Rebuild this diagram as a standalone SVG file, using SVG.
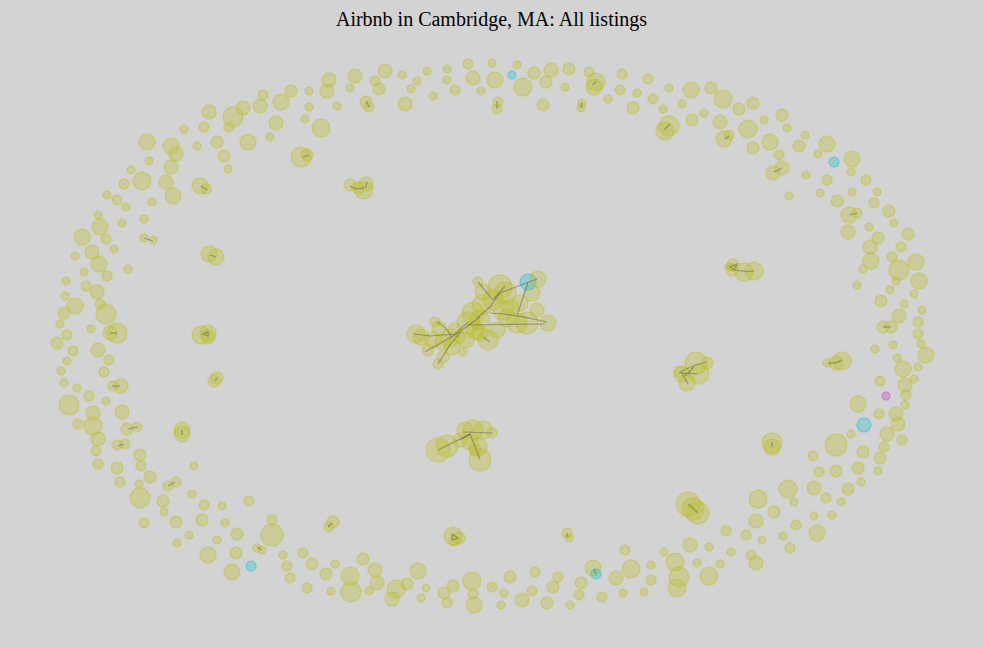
<svg xmlns="http://www.w3.org/2000/svg" width="983" height="647" viewBox="0 0 983 647">
<style>
.bg{fill:#d3d3d3}
.t{font-family:"Liberation Serif","Times New Roman",serif;font-size:20px;fill:#000}
.y circle{fill:#bcbd22;fill-opacity:.32;stroke:#bcbd22;stroke-opacity:.35;stroke-width:1.5}
.y .c{fill:#17becf;stroke:#17becf}
.y .m{fill:#cc33cc;stroke:#cc33cc}
.e path{fill:none;stroke:#555;stroke-opacity:.45;stroke-width:1.2}
</style>
<rect class="bg" x="0" y="0" width="983" height="647"/>
<text class="t" x="491.5" y="26" text-anchor="middle">Airbnb in Cambridge, MA: All listings</text>
<g class="y" id="nodes">
<g id="n1"><circle cx="355" cy="76" r="7"/></g>
<g id="n2"><circle cx="350" cy="88" r="4"/></g>
<g id="n3"><circle cx="329" cy="80" r="7"/></g>
<g id="n4"><circle cx="327" cy="91" r="7"/></g>
<g id="n5"><circle cx="337" cy="106" r="4"/></g>
<g id="n6"><circle cx="309" cy="91" r="4"/></g>
<g id="n7"><circle cx="309" cy="107" r="4"/></g>
<g id="n8"><circle cx="305" cy="119" r="4"/></g>
<g id="n9"><circle cx="321" cy="128" r="9"/></g>
<g id="n10"><circle cx="291" cy="91" r="6"/></g>
<g id="n11"><circle cx="281" cy="102" r="8"/></g>
<g id="n12"><circle cx="263" cy="95" r="5"/></g>
<g id="n13"><circle cx="260" cy="106" r="7"/></g>
<g id="n14"><circle cx="276" cy="123" r="7"/></g>
<g id="n15"><circle cx="270" cy="137" r="4"/></g>
<g id="n16"><circle cx="243" cy="108" r="7"/></g>
<g id="n17"><circle cx="233" cy="117" r="10"/></g>
<g id="n18"><circle cx="229" cy="127" r="5"/></g>
<g id="n19"><circle cx="209" cy="112" r="7"/></g>
<g id="n20"><circle cx="204" cy="127" r="5"/></g>
<g id="n21"><circle cx="184" cy="129" r="4"/></g>
<g id="n22"><circle cx="217" cy="142" r="6"/></g>
<g id="n23"><circle cx="197" cy="146" r="4"/></g>
<g id="n24"><circle cx="248" cy="142" r="8"/></g>
<g id="n25"><circle cx="224" cy="156" r="6"/></g>
<g id="n26"><circle cx="228" cy="169" r="4"/></g>
<g id="n27"><circle cx="301" cy="157" r="10"/></g>
<g id="n28"><circle cx="307" cy="155" r="6"/></g>
<g id="n29"><circle cx="147" cy="142" r="8"/></g>
<g id="n30"><circle cx="171" cy="146" r="8"/></g>
<g id="n31"><circle cx="176" cy="154" r="7"/></g>
<g id="n32"><circle cx="149" cy="161" r="4"/></g>
<g id="n33"><circle cx="171" cy="167" r="7"/></g>
<g id="n34"><circle cx="131" cy="170" r="4"/></g>
<g id="n35"><circle cx="142" cy="181" r="9"/></g>
<g id="n36"><circle cx="166" cy="182" r="7"/></g>
<g id="n37"><circle cx="173" cy="196" r="8"/></g>
<g id="n38"><circle cx="200" cy="186" r="8"/></g>
<g id="n39"><circle cx="206" cy="189" r="5"/></g>
<g id="n40"><circle cx="124" cy="184" r="5"/></g>
<g id="n41"><circle cx="107" cy="195" r="4"/></g>
<g id="n42"><circle cx="117" cy="200" r="5"/></g>
<g id="n43"><circle cx="126" cy="207" r="4"/></g>
<g id="n44"><circle cx="152" cy="202" r="4"/></g>
<g id="n45"><circle cx="98" cy="215" r="4"/></g>
<g id="n46"><circle cx="100" cy="227" r="8"/></g>
<g id="n47"><circle cx="82" cy="237" r="8"/></g>
<g id="n48"><circle cx="106" cy="239" r="5"/></g>
<g id="n49"><circle cx="122" cy="223" r="4"/></g>
<g id="n50"><circle cx="144" cy="219" r="4"/></g>
<g id="n51"><circle cx="144" cy="238" r="4"/></g>
<g id="n52"><circle cx="153" cy="240" r="4"/></g>
<g id="n53"><circle cx="114" cy="249" r="4"/></g>
<g id="n54"><circle cx="92" cy="252" r="7"/></g>
<g id="n55"><circle cx="75" cy="256" r="4"/></g>
<g id="n56"><circle cx="99" cy="264" r="8"/></g>
<g id="n57"><circle cx="128" cy="269" r="4"/></g>
<g id="n58"><circle cx="84" cy="272" r="4"/></g>
<g id="n59"><circle cx="107" cy="276" r="5"/></g>
<g id="n60"><circle cx="66" cy="281" r="4"/></g>
<g id="n61"><circle cx="86" cy="286" r="5"/></g>
<g id="n62"><circle cx="97" cy="292" r="7"/></g>
<g id="n63"><circle cx="65" cy="296" r="4"/></g>
<g id="n64"><circle cx="209" cy="254" r="8"/></g>
<g id="n65"><circle cx="216" cy="257" r="8"/></g>
<g id="n66"><circle cx="350" cy="185" r="6"/></g>
<g id="n67"><circle cx="358" cy="188" r="6"/></g>
<g id="n68"><circle cx="366" cy="184" r="7"/></g>
<g id="n69"><circle cx="364" cy="190" r="9"/></g>
<g id="n70"><circle cx="385" cy="71" r="7"/></g>
<g id="n71"><circle cx="375" cy="81" r="5"/></g>
<g id="n72"><circle cx="379" cy="89" r="6"/></g>
<g id="n73"><circle cx="366" cy="102" r="6"/></g>
<g id="n74"><circle cx="369" cy="107" r="5"/></g>
<g id="n75"><circle cx="402" cy="75" r="4"/></g>
<g id="n76"><circle cx="417" cy="81" r="4"/></g>
<g id="n77"><circle cx="411" cy="89" r="4"/></g>
<g id="n78"><circle cx="405" cy="104" r="7"/></g>
<g id="n79"><circle cx="427" cy="71" r="4"/></g>
<g id="n80"><circle cx="447" cy="69" r="4"/></g>
<g id="n81"><circle cx="447" cy="80" r="4"/></g>
<g id="n82"><circle cx="433" cy="96" r="4"/></g>
<g id="n83"><circle cx="455" cy="90" r="5"/></g>
<g id="n84"><circle cx="468" cy="64" r="5"/></g>
<g id="n85"><circle cx="473" cy="78" r="7"/></g>
<g id="n86"><circle cx="481" cy="91" r="4"/></g>
<g id="n87"><circle cx="492" cy="63" r="4"/></g>
<g id="n88"><circle cx="495" cy="80" r="8"/></g>
<g id="n89"><circle cx="498" cy="102" r="5"/></g>
<g id="n90"><circle cx="497" cy="109" r="5"/></g>
<g id="n91"><circle class="c" cx="512" cy="75" r="4"/></g>
<g id="n92"><circle cx="517" cy="65" r="4"/></g>
<g id="n93"><circle cx="523" cy="87" r="9"/></g>
<g id="n94"><circle cx="534" cy="73" r="6"/></g>
<g id="n95"><circle cx="551" cy="70" r="7"/></g>
<g id="n96"><circle cx="546" cy="82" r="6"/></g>
<g id="n97"><circle cx="543" cy="105" r="6"/></g>
<g id="n98"><circle cx="565" cy="87" r="4"/></g>
<g id="n99"><circle cx="569" cy="69" r="6"/></g>
<g id="n100"><circle cx="582" cy="103" r="4"/></g>
<g id="n101"><circle cx="581" cy="108" r="4"/></g>
<g id="n102"><circle cx="589" cy="72" r="5"/></g>
<g id="n103"><circle cx="596" cy="82" r="9"/></g>
<g id="n104"><circle cx="594" cy="87" r="8"/></g>
<g id="n105"><circle cx="622" cy="74" r="5"/></g>
<g id="n106"><circle cx="620" cy="90" r="5"/></g>
<g id="n107"><circle cx="608" cy="99" r="4"/></g>
<g id="n108"><circle cx="637" cy="93" r="4"/></g>
<g id="n109"><circle cx="633" cy="108" r="6"/></g>
<g id="n110"><circle cx="648" cy="79" r="5"/></g>
<g id="n111"><circle cx="653" cy="99" r="5"/></g>
<g id="n112"><circle cx="669" cy="88" r="4"/></g>
<g id="n113"><circle cx="663" cy="109" r="4"/></g>
<g id="n114"><circle cx="682" cy="104" r="4"/></g>
<g id="n115"><circle cx="691" cy="90" r="8"/></g>
<g id="n116"><circle cx="711" cy="88" r="6"/></g>
<g id="n117"><circle cx="723" cy="99" r="9"/></g>
<g id="n118"><circle cx="692" cy="120" r="6"/></g>
<g id="n119"><circle cx="704" cy="113" r="4"/></g>
<g id="n120"><circle cx="739" cy="109" r="6"/></g>
<g id="n121"><circle cx="753" cy="103" r="6"/></g>
<g id="n122"><circle cx="720" cy="122" r="7"/></g>
<g id="n123"><circle cx="669" cy="126" r="10"/></g>
<g id="n124"><circle cx="665" cy="131" r="9"/></g>
<g id="n125"><circle cx="724" cy="139" r="8"/></g>
<g id="n126"><circle cx="729" cy="135" r="5"/></g>
<g id="n127"><circle cx="748" cy="129" r="9"/></g>
<g id="n128"><circle cx="764" cy="120" r="4"/></g>
<g id="n129"><circle cx="782" cy="115" r="6"/></g>
<g id="n130"><circle cx="787" cy="128" r="4"/></g>
<g id="n131"><circle cx="753" cy="148" r="6"/></g>
<g id="n132"><circle cx="770" cy="142" r="8"/></g>
<g id="n133"><circle cx="805" cy="135" r="4"/></g>
<g id="n134"><circle cx="799" cy="146" r="6"/></g>
<g id="n135"><circle cx="827" cy="144" r="8"/></g>
<g id="n136"><circle cx="779" cy="155" r="5"/></g>
<g id="n137"><circle cx="782" cy="168" r="7"/></g>
<g id="n138"><circle cx="773" cy="173" r="7"/></g>
<g id="n139"><circle cx="818" cy="154" r="4"/></g>
<g id="n140"><circle class="c" cx="834" cy="162" r="5"/></g>
<g id="n141"><circle cx="852" cy="159" r="8"/></g>
<g id="n142"><circle cx="851" cy="172" r="4"/></g>
<g id="n143"><circle cx="806" cy="175" r="4"/></g>
<g id="n144"><circle cx="827" cy="180" r="5"/></g>
<g id="n145"><circle cx="866" cy="180" r="5"/></g>
<g id="n146"><circle cx="789" cy="196" r="4"/></g>
<g id="n147"><circle cx="820" cy="193" r="4"/></g>
<g id="n148"><circle cx="837" cy="201" r="6"/></g>
<g id="n149"><circle cx="852" cy="192" r="4"/></g>
<g id="n150"><circle cx="877" cy="192" r="4"/></g>
<g id="n151"><circle cx="874" cy="203" r="5"/></g>
<g id="n152"><circle cx="889" cy="211" r="6"/></g>
<g id="n153"><circle cx="849" cy="215" r="8"/></g>
<g id="n154"><circle cx="857" cy="213" r="5"/></g>
<g id="n155"><circle cx="869" cy="227" r="4"/></g>
<g id="n156"><circle cx="894" cy="223" r="4"/></g>
<g id="n157"><circle cx="908" cy="234" r="6"/></g>
<g id="n158"><circle cx="848" cy="232" r="7"/></g>
<g id="n159"><circle cx="878" cy="238" r="6"/></g>
<g id="n160"><circle cx="870" cy="247" r="7"/></g>
<g id="n161"><circle cx="901" cy="247" r="5"/></g>
<g id="n162"><circle cx="871" cy="261" r="8"/></g>
<g id="n163"><circle cx="892" cy="257" r="5"/></g>
<g id="n164"><circle cx="916" cy="262" r="8"/></g>
<g id="n165"><circle cx="899" cy="270" r="10"/></g>
<g id="n166"><circle cx="863" cy="269" r="4"/></g>
<g id="n167"><circle cx="919" cy="281" r="8"/></g>
<g id="n168"><circle cx="896" cy="281" r="4"/></g>
<g id="n169"><circle cx="857" cy="285" r="4"/></g>
<g id="n170"><circle cx="890" cy="290" r="4"/></g>
<g id="n171"><circle cx="914" cy="294" r="4"/></g>
<g id="n172"><circle cx="881" cy="301" r="6"/></g>
<g id="n173"><circle cx="733" cy="265" r="6"/></g>
<g id="n174"><circle cx="732" cy="270" r="6"/></g>
<g id="n175"><circle cx="744" cy="272" r="9"/></g>
<g id="n176"><circle cx="754" cy="271" r="9"/></g>
<g id="n177"><circle cx="729" cy="267" r="4"/></g>
<g id="n178"><circle cx="75" cy="306" r="8"/></g>
<g id="n179"><circle cx="64" cy="313" r="6"/></g>
<g id="n180"><circle cx="100" cy="304" r="5"/></g>
<g id="n181"><circle cx="106" cy="314" r="10"/></g>
<g id="n182"><circle cx="60" cy="324" r="4"/></g>
<g id="n183"><circle cx="91" cy="329" r="4"/></g>
<g id="n184"><circle cx="67" cy="335" r="5"/></g>
<g id="n185"><circle cx="110" cy="333" r="7"/></g>
<g id="n186"><circle cx="117" cy="333" r="10"/></g>
<g id="n187"><circle cx="57" cy="343" r="6"/></g>
<g id="n188"><circle cx="73" cy="351" r="5"/></g>
<g id="n189"><circle cx="98" cy="350" r="7"/></g>
<g id="n190"><circle cx="109" cy="360" r="5"/></g>
<g id="n191"><circle cx="67" cy="361" r="4"/></g>
<g id="n192"><circle cx="61" cy="371" r="4"/></g>
<g id="n193"><circle cx="104" cy="372" r="5"/></g>
<g id="n194"><circle cx="64" cy="383" r="4"/></g>
<g id="n195"><circle cx="77" cy="388" r="4"/></g>
<g id="n196"><circle cx="113" cy="386" r="5"/></g>
<g id="n197"><circle cx="121" cy="386" r="7"/></g>
<g id="n198"><circle cx="89" cy="396" r="5"/></g>
<g id="n199"><circle cx="106" cy="401" r="4"/></g>
<g id="n200"><circle cx="69" cy="405" r="10"/></g>
<g id="n201"><circle cx="93" cy="413" r="7"/></g>
<g id="n202"><circle cx="122" cy="412" r="7"/></g>
<g id="n203"><circle cx="78" cy="424" r="5"/></g>
<g id="n204"><circle cx="93" cy="426" r="9"/></g>
<g id="n205"><circle cx="127" cy="429" r="6"/></g>
<g id="n206"><circle cx="137" cy="427" r="5"/></g>
<g id="n207"><circle cx="98" cy="439" r="7"/></g>
<g id="n208"><circle cx="117" cy="445" r="5"/></g>
<g id="n209"><circle cx="125" cy="444" r="5"/></g>
<g id="n210"><circle cx="96" cy="451" r="5"/></g>
<g id="n211"><circle cx="140" cy="455" r="6"/></g>
<g id="n212"><circle cx="98" cy="464" r="5"/></g>
<g id="n213"><circle cx="117" cy="468" r="6"/></g>
<g id="n214"><circle cx="141" cy="466" r="5"/></g>
<g id="n215"><circle cx="194" cy="466" r="4"/></g>
<g id="n216"><circle cx="120" cy="482" r="5"/></g>
<g id="n217"><circle cx="150" cy="477" r="6"/></g>
<g id="n218"><circle cx="139" cy="484" r="4"/></g>
<g id="n219"><circle cx="168" cy="486" r="5"/></g>
<g id="n220"><circle cx="176" cy="482" r="5"/></g>
<g id="n221"><circle cx="140" cy="498" r="10"/></g>
<g id="n222"><circle cx="192" cy="494" r="4"/></g>
<g id="n223"><circle cx="163" cy="501" r="6"/></g>
<g id="n224"><circle cx="164" cy="512" r="4"/></g>
<g id="n225"><circle cx="204" cy="505" r="5"/></g>
<g id="n226"><circle cx="222" cy="506" r="4"/></g>
<g id="n227"><circle cx="249" cy="501" r="5"/></g>
<g id="n228"><circle cx="144" cy="523" r="5"/></g>
<g id="n229"><circle cx="176" cy="522" r="6"/></g>
<g id="n230"><circle cx="202" cy="520" r="6"/></g>
<g id="n231"><circle cx="189" cy="535" r="4"/></g>
<g id="n232"><circle cx="177" cy="543" r="4"/></g>
<g id="n233"><circle cx="225" cy="523" r="4"/></g>
<g id="n234"><circle cx="217" cy="540" r="4"/></g>
<g id="n235"><circle cx="237" cy="534" r="6"/></g>
<g id="n236"><circle cx="272" cy="520" r="5"/></g>
<g id="n237"><circle cx="272" cy="535" r="11"/></g>
<g id="n238"><circle cx="208" cy="555" r="8"/></g>
<g id="n239"><circle cx="236" cy="553" r="6"/></g>
<g id="n240"><circle cx="257" cy="548" r="4"/></g>
<g id="n241"><circle cx="262" cy="550" r="4"/></g>
<g id="n242"><circle class="c" cx="251" cy="566" r="5"/></g>
<g id="n243"><circle cx="232" cy="572" r="8"/></g>
<g id="n244"><circle cx="283" cy="555" r="4"/></g>
<g id="n245"><circle cx="287" cy="566" r="5"/></g>
<g id="n246"><circle cx="303" cy="553" r="5"/></g>
<g id="n247"><circle cx="290" cy="578" r="5"/></g>
<g id="n248"><circle cx="312" cy="564" r="6"/></g>
<g id="n249"><circle cx="335" cy="564" r="4"/></g>
<g id="n250"><circle cx="307" cy="588" r="5"/></g>
<g id="n251"><circle cx="326" cy="574" r="6"/></g>
<g id="n252"><circle cx="331" cy="591" r="4"/></g>
<g id="n253"><circle cx="350" cy="576" r="9"/></g>
<g id="n254"><circle cx="351" cy="592" r="10"/></g>
<g id="n255"><circle cx="363" cy="559" r="6"/></g>
<g id="n256"><circle cx="333" cy="522" r="6"/></g>
<g id="n257"><circle cx="329" cy="527" r="5"/></g>
<g id="n258"><circle cx="201" cy="335" r="9"/></g>
<g id="n259"><circle cx="208" cy="333" r="8"/></g>
<g id="n260"><circle cx="208" cy="337" r="7"/></g>
<g id="n261"><circle cx="217" cy="378" r="6"/></g>
<g id="n262"><circle cx="214" cy="381" r="6"/></g>
<g id="n263"><circle cx="182" cy="430" r="8"/></g>
<g id="n264"><circle cx="182" cy="434" r="8"/></g>
<g id="n265"><circle cx="453" cy="536" r="9"/></g>
<g id="n266"><circle cx="459" cy="538" r="6"/></g>
<g id="n267"><circle cx="454" cy="541" r="5"/></g>
<g id="n268"><circle cx="567" cy="533" r="5"/></g>
<g id="n269"><circle cx="569" cy="538" r="4"/></g>
<g id="n270"><circle cx="375" cy="570" r="7"/></g>
<g id="n271"><circle cx="377" cy="583" r="7"/></g>
<g id="n272"><circle cx="369" cy="591" r="4"/></g>
<g id="n273"><circle cx="396" cy="589" r="9"/></g>
<g id="n274"><circle cx="392" cy="599" r="7"/></g>
<g id="n275"><circle cx="407" cy="584" r="6"/></g>
<g id="n276"><circle cx="418" cy="571" r="8"/></g>
<g id="n277"><circle cx="426" cy="588" r="4"/></g>
<g id="n278"><circle cx="421" cy="598" r="4"/></g>
<g id="n279"><circle cx="444" cy="593" r="6"/></g>
<g id="n280"><circle cx="447" cy="603" r="5"/></g>
<g id="n281"><circle cx="453" cy="586" r="6"/></g>
<g id="n282"><circle cx="472" cy="581" r="9"/></g>
<g id="n283"><circle cx="473" cy="594" r="5"/></g>
<g id="n284"><circle cx="474" cy="605" r="8"/></g>
<g id="n285"><circle cx="492" cy="587" r="5"/></g>
<g id="n286"><circle cx="504" cy="593" r="4"/></g>
<g id="n287"><circle cx="501" cy="605" r="4"/></g>
<g id="n288"><circle cx="510" cy="577" r="6"/></g>
<g id="n289"><circle cx="522" cy="600" r="7"/></g>
<g id="n290"><circle cx="532" cy="591" r="5"/></g>
<g id="n291"><circle cx="535" cy="572" r="5"/></g>
<g id="n292"><circle cx="547" cy="603" r="6"/></g>
<g id="n293"><circle cx="553" cy="587" r="6"/></g>
<g id="n294"><circle cx="558" cy="577" r="5"/></g>
<g id="n295"><circle cx="570" cy="605" r="4"/></g>
<g id="n296"><circle cx="579" cy="595" r="5"/></g>
<g id="n297"><circle cx="581" cy="583" r="6"/></g>
<g id="n298"><circle cx="593" cy="568" r="8"/></g>
<g id="n299"><circle class="c" cx="596" cy="574" r="5"/></g>
<g id="n300"><circle cx="602" cy="597" r="5"/></g>
<g id="n301"><circle cx="616" cy="578" r="7"/></g>
<g id="n302"><circle cx="623" cy="593" r="4"/></g>
<g id="n303"><circle cx="625" cy="550" r="5"/></g>
<g id="n304"><circle cx="631" cy="569" r="9"/></g>
<g id="n305"><circle cx="644" cy="592" r="4"/></g>
<g id="n306"><circle cx="651" cy="565" r="4"/></g>
<g id="n307"><circle cx="651" cy="580" r="5"/></g>
<g id="n308"><circle cx="904" cy="304" r="4"/></g>
<g id="n309"><circle cx="922" cy="310" r="4"/></g>
<g id="n310"><circle cx="899" cy="316" r="7"/></g>
<g id="n311"><circle cx="918" cy="322" r="5"/></g>
<g id="n312"><circle cx="883" cy="327" r="6"/></g>
<g id="n313"><circle cx="891" cy="327" r="6"/></g>
<g id="n314"><circle cx="918" cy="334" r="5"/></g>
<g id="n315"><circle cx="893" cy="345" r="4"/></g>
<g id="n316"><circle cx="921" cy="344" r="4"/></g>
<g id="n317"><circle cx="875" cy="349" r="4"/></g>
<g id="n318"><circle cx="926" cy="355" r="8"/></g>
<g id="n319"><circle cx="897" cy="358" r="4"/></g>
<g id="n320"><circle cx="903" cy="369" r="8"/></g>
<g id="n321"><circle cx="918" cy="367" r="4"/></g>
<g id="n322"><circle cx="880" cy="381" r="5"/></g>
<g id="n323"><circle cx="914" cy="379" r="4"/></g>
<g id="n324"><circle cx="905" cy="385" r="7"/></g>
<g id="n325"><circle cx="906" cy="395" r="5"/></g>
<g id="n326"><circle class="m" cx="886" cy="396" r="4"/></g>
<g id="n327"><circle cx="858" cy="404" r="8"/></g>
<g id="n328"><circle cx="905" cy="405" r="4"/></g>
<g id="n329"><circle cx="879" cy="414" r="5"/></g>
<g id="n330"><circle cx="896" cy="414" r="7"/></g>
<g id="n331"><circle cx="898" cy="424" r="7"/></g>
<g id="n332"><circle class="c" cx="864" cy="425" r="7"/></g>
<g id="n333"><circle cx="851" cy="434" r="4"/></g>
<g id="n334"><circle cx="887" cy="434" r="7"/></g>
<g id="n335"><circle cx="902" cy="440" r="5"/></g>
<g id="n336"><circle cx="836" cy="445" r="11"/></g>
<g id="n337"><circle cx="884" cy="447" r="5"/></g>
<g id="n338"><circle cx="863" cy="452" r="6"/></g>
<g id="n339"><circle cx="813" cy="456" r="5"/></g>
<g id="n340"><circle cx="880" cy="458" r="6"/></g>
<g id="n341"><circle cx="858" cy="468" r="6"/></g>
<g id="n342"><circle cx="819" cy="472" r="5"/></g>
<g id="n343"><circle cx="836" cy="471" r="6"/></g>
<g id="n344"><circle cx="878" cy="471" r="4"/></g>
<g id="n345"><circle cx="861" cy="482" r="4"/></g>
<g id="n346"><circle cx="788" cy="489" r="9"/></g>
<g id="n347"><circle cx="814" cy="488" r="7"/></g>
<g id="n348"><circle cx="848" cy="489" r="6"/></g>
<g id="n349"><circle cx="826" cy="498" r="5"/></g>
<g id="n350"><circle cx="794" cy="502" r="4"/></g>
<g id="n351"><circle cx="841" cy="502" r="4"/></g>
<g id="n352"><circle cx="758" cy="499" r="9"/></g>
<g id="n353"><circle cx="774" cy="512" r="6"/></g>
<g id="n354"><circle cx="814" cy="516" r="4"/></g>
<g id="n355"><circle cx="832" cy="515" r="4"/></g>
<g id="n356"><circle cx="756" cy="521" r="7"/></g>
<g id="n357"><circle cx="796" cy="525" r="5"/></g>
<g id="n358"><circle cx="817" cy="533" r="8"/></g>
<g id="n359"><circle cx="726" cy="531" r="5"/></g>
<g id="n360"><circle cx="746" cy="535" r="5"/></g>
<g id="n361"><circle cx="762" cy="540" r="4"/></g>
<g id="n362"><circle cx="783" cy="536" r="4"/></g>
<g id="n363"><circle cx="790" cy="548" r="5"/></g>
<g id="n364"><circle cx="690" cy="545" r="7"/></g>
<g id="n365"><circle cx="709" cy="547" r="4"/></g>
<g id="n366"><circle cx="731" cy="552" r="4"/></g>
<g id="n367"><circle cx="664" cy="552" r="4"/></g>
<g id="n368"><circle cx="751" cy="555" r="5"/></g>
<g id="n369"><circle cx="756" cy="563" r="7"/></g>
<g id="n370"><circle cx="675" cy="562" r="9"/></g>
<g id="n371"><circle cx="697" cy="563" r="4"/></g>
<g id="n372"><circle cx="720" cy="564" r="4"/></g>
<g id="n373"><circle cx="679" cy="577" r="10"/></g>
<g id="n374"><circle cx="709" cy="576" r="9"/></g>
<g id="n375"><circle cx="677" cy="588" r="9"/></g>
<g id="n376"><circle cx="696" cy="363" r="11"/></g>
<g id="n377"><circle cx="707" cy="363" r="6"/></g>
<g id="n378"><circle cx="699" cy="374" r="10"/></g>
<g id="n379"><circle cx="687" cy="383" r="8"/></g>
<g id="n380"><circle cx="682" cy="374" r="8"/></g>
<g id="n381"><circle cx="680" cy="372" r="6"/></g>
<g id="n382"><circle cx="842" cy="361" r="9"/></g>
<g id="n383"><circle cx="836" cy="363" r="7"/></g>
<g id="n384"><circle cx="827" cy="363" r="4"/></g>
<g id="n385"><circle cx="772" cy="443" r="10"/></g>
<g id="n386"><circle cx="772" cy="447" r="8"/></g>
<g id="n387"><circle cx="688" cy="504" r="12"/></g>
<g id="n388"><circle cx="693" cy="509" r="11"/></g>
<g id="n389"><circle cx="698" cy="513" r="11"/></g>
<g id="n390"><circle cx="416" cy="334" r="9"/></g>
<g id="n391"><circle cx="421" cy="337" r="8"/></g>
<g id="n392"><circle cx="435" cy="322" r="5"/></g>
<g id="n393"><circle cx="439" cy="328" r="7"/></g>
<g id="n394"><circle cx="433" cy="340" r="8"/></g>
<g id="n395"><circle cx="428" cy="350" r="6"/></g>
<g id="n396"><circle cx="443" cy="342" r="8"/></g>
<g id="n397"><circle cx="450" cy="338" r="9"/></g>
<g id="n398"><circle cx="455" cy="330" r="7"/></g>
<g id="n399"><circle cx="463" cy="352" r="4"/></g>
<g id="n400"><circle cx="438" cy="364" r="5"/></g>
<g id="n401"><circle cx="443" cy="357" r="6"/></g>
<g id="n402"><circle cx="452" cy="347" r="8"/></g>
<g id="n403"><circle cx="459" cy="337" r="6"/></g>
<g id="n404"><circle cx="468" cy="323" r="11"/></g>
<g id="n405"><circle cx="473" cy="313" r="11"/></g>
<g id="n406"><circle cx="482" cy="305" r="10"/></g>
<g id="n407"><circle cx="478" cy="282" r="5"/></g>
<g id="n408"><circle cx="483" cy="292" r="8"/></g>
<g id="n409"><circle cx="488" cy="340" r="10"/></g>
<g id="n410"><circle cx="480" cy="333" r="8"/></g>
<g id="n411"><circle cx="497" cy="330" r="8"/></g>
<g id="n412"><circle cx="500" cy="287" r="12"/></g>
<g id="n413"><circle cx="505" cy="293" r="11"/></g>
<g id="n414"><circle cx="493" cy="300" r="10"/></g>
<g id="n415"><circle cx="503" cy="310" r="10"/></g>
<g id="n416"><circle cx="510" cy="307" r="8"/></g>
<g id="n417"><circle cx="517" cy="323" r="10"/></g>
<g id="n418"><circle cx="527" cy="323" r="11"/></g>
<g id="n419"><circle cx="520" cy="303" r="8"/></g>
<g id="n420"><circle cx="532" cy="293" r="8"/></g>
<g id="n421"><circle class="c" cx="528" cy="282" r="8"/></g>
<g id="n422"><circle cx="538" cy="279" r="8"/></g>
<g id="n423"><circle cx="537" cy="310" r="7"/></g>
<g id="n424"><circle cx="548" cy="323" r="8"/></g>
<g id="n425"><circle cx="507" cy="318" r="9"/></g>
<g id="n426"><circle cx="480" cy="320" r="10"/></g>
<g id="n427"><circle cx="466" cy="340" r="8"/></g>
<g id="n428"><circle cx="475" cy="330" r="9"/></g>
<g id="n429"><circle cx="438" cy="450" r="12"/></g>
<g id="n430"><circle cx="447" cy="446" r="11"/></g>
<g id="n431"><circle cx="460" cy="440" r="7"/></g>
<g id="n432"><circle cx="465" cy="430" r="8"/></g>
<g id="n433"><circle cx="473" cy="430" r="10"/></g>
<g id="n434"><circle cx="483" cy="430" r="9"/></g>
<g id="n435"><circle cx="492" cy="433" r="5"/></g>
<g id="n436"><circle cx="470" cy="442" r="8"/></g>
<g id="n437"><circle cx="478" cy="447" r="9"/></g>
<g id="n438"><circle cx="475" cy="450" r="6"/></g>
<g id="n439"><circle cx="480" cy="460" r="11"/></g>
</g>
<g class="e" id="connectors">
<path d="M303,157 L309,155"/>
<path d="M201,186 L207,190"/>
<path d="M144,238 L153,241"/>
<path d="M210,255 L216,257"/>
<path d="M350,186 Q356,191 366,187 L367,182"/>
<path d="M366,101 L369,107"/>
<path d="M497,101 L497,109"/>
<path d="M582,102 L581,108"/>
<path d="M596,81 L593,85"/>
<path d="M664,130 L670,124"/>
<path d="M725,139 L729,136"/>
<path d="M774,172 L782,168"/>
<path d="M849,215 L857,213"/>
<path d="M730,267 L737,264 L734,270 Z"/>
<path d="M735,270 Q745,272 754,271"/>
<path d="M110,333 L117,333"/>
<path d="M112,386 L120,386"/>
<path d="M128,429 L138,427"/>
<path d="M118,446 L124,444"/>
<path d="M168,486 L175,482"/>
<path d="M257,547 L262,550"/>
<path d="M332,523 L328,527"/>
<path d="M203,334 L208,332 L208,336 Z"/>
<path d="M215,381 L217,378"/>
<path d="M182,430 L182,435"/>
<path d="M452,534 L458,538 L452,540 Z"/>
<path d="M567,533 L568,537"/>
<path d="M594,569 L596,574"/>
<path d="M883,327 L891,327"/>
<path d="M828,363 Q836,364 842,360"/>
<path d="M772,442 L772,447"/>
<path d="M688,504 L698,513"/>
<path d="M679,373 Q690,366 706,362"/>
<path d="M680,373 L697,374"/>
<path d="M682,373 L688,384"/>
<path d="M685,376 L694,367"/>
<path d="M414,334 L430,336 L455,334 L468,322"/>
<path d="M425,352 L460,332"/>
<path d="M438,364 L450,345 L462,330 L480,317"/>
<path d="M478,282 L493,300"/>
<path d="M477,318 L490,307 L500,293 L537,279"/>
<path d="M528,282 L517,316"/>
<path d="M490,313 Q520,315 547,322"/>
<path d="M467,325 L545,324"/>
<path d="M437,322 Q448,328 452,338"/>
<path d="M483,337 L490,342"/>
<path d="M493,300 L505,286"/>
<path d="M438,450 L470,434"/>
<path d="M470,434 L480,459"/>
<path d="M463,432 L493,433"/>
<path d="M460,440 L470,434"/>
</g>
</svg>
